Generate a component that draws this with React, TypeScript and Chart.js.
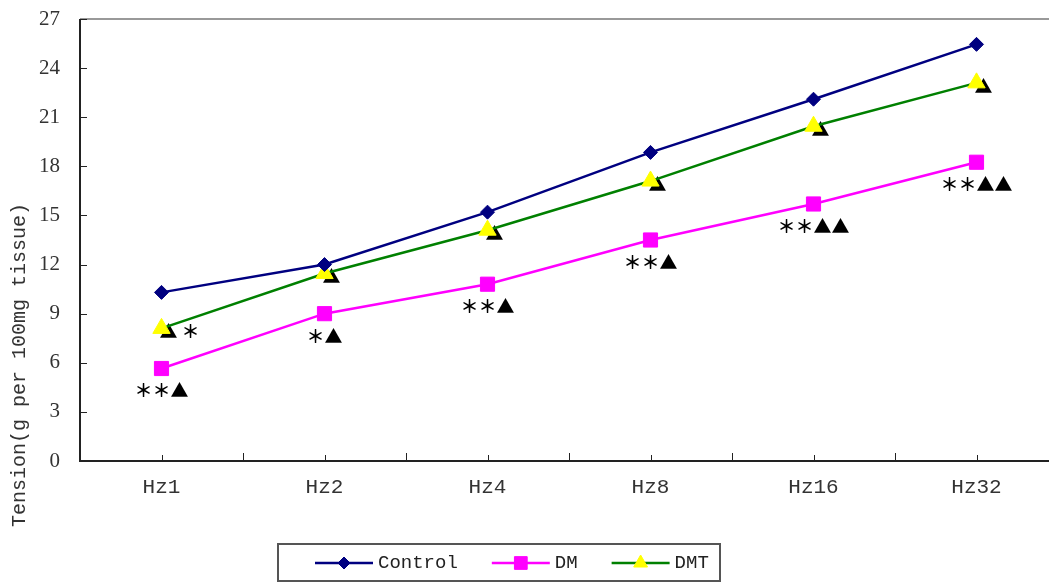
import React, { useEffect, useRef } from "react";
import { Chart, registerables } from "chart.js";
import { drawPoint } from "chart.js/helpers";

Chart.register(...registerables);

const categories = ["Hz1", "Hz2", "Hz4", "Hz8", "Hz16", "Hz32"];
const controlValues = [10.3, 12.0, 15.2, 18.85, 22.1, 25.45];
const dmValues = [5.65, 9.0, 10.8, 13.5, 15.7, 18.25];
const dmtValues = [8.1, 11.45, 14.1, 17.1, 20.45, 23.1];
const yTickValues = [0, 3, 6, 9, 12, 15, 18, 21, 24, 27];
const dmMarks = ["＊＊▲", "＊▲", "＊＊▲", "＊＊▲", "＊＊▲▲", "＊＊▲▲"];
const dmtMarks = ["▲ ＊", "▲", "▲", "▲", "▲", "▲"];
const yTitle = "Tension(g per 100mg tissue)";

const MARK_FONT = 'bold 18px "Noto Sans CJK SC"';
const MONO = '"Liberation Mono", monospace';

const decorPlugin = {
  id: "decor",
  beforeDatasetsDraw(chart: any) {
    const ctx = chart.ctx;
    const x = chart.scales.x;
    const y = chart.scales.y;
    ctx.save();
    ctx.fillStyle = "#000";
    ctx.font = MARK_FONT;
    ctx.textBaseline = "middle";
    ctx.textAlign = "left";
    dmtMarks.forEach((m, i) => {
      const px = x.getPixelForValue(i);
      const py = y.getPixelForValue(dmtValues[i]);
      ctx.fillText(m, px - 2, py + 3);
    });
    ctx.restore();
  },
  afterDatasetsDraw(chart: any) {
    const ctx = chart.ctx;
    const x = chart.scales.x;
    const y = chart.scales.y;
    const area = chart.chartArea;
    ctx.save();
    ctx.fillStyle = "#000";
    ctx.font = MARK_FONT;
    ctx.textBaseline = "middle";
    ctx.textAlign = "center";
    dmMarks.forEach((m, i) => {
      const px = x.getPixelForValue(i);
      const py = y.getPixelForValue(dmValues[i]);
      ctx.fillText(m, px, py + 22);
    });
    ctx.restore();

    ctx.save();
    ctx.strokeStyle = "#999";
    ctx.lineWidth = 2;
    ctx.beginPath();
    ctx.moveTo(area.left, area.top);
    ctx.lineTo(area.right, area.top);
    ctx.lineTo(area.right, area.bottom);
    ctx.stroke();
    ctx.strokeStyle = "#222";
    ctx.lineWidth = 2;
    ctx.beginPath();
    ctx.moveTo(area.left, area.top);
    ctx.lineTo(area.left, area.bottom);
    ctx.lineTo(area.right, area.bottom);
    ctx.stroke();
    ctx.lineWidth = 1;
    yTickValues.forEach((v) => {
      const py = Math.round(y.getPixelForValue(v)) + 0.5;
      ctx.beginPath();
      ctx.moveTo(area.left, py);
      ctx.lineTo(area.left + 7, py);
      ctx.stroke();
    });
    const step = x.getPixelForValue(1) - x.getPixelForValue(0);
    categories.forEach((_, i) => {
      const c = Math.round(x.getPixelForValue(i)) + 0.5;
      ctx.beginPath();
      ctx.moveTo(c, area.bottom);
      ctx.lineTo(c, area.bottom - 6);
      ctx.stroke();
      const b = Math.round(x.getPixelForValue(i) + step / 2) + 0.5;
      ctx.beginPath();
      ctx.moveTo(b, area.bottom);
      ctx.lineTo(b, area.bottom - 8);
      ctx.stroke();
    });
    ctx.restore();
  },
  afterDraw(chart: any) {
    const ctx = chart.ctx;
    ctx.save();
    ctx.translate(20, 365);
    ctx.rotate(-Math.PI / 2);
    ctx.fillStyle = "#333";
    ctx.font = `20px ${MONO}`;
    ctx.textAlign = "center";
    ctx.textBaseline = "middle";
    ctx.fillText(yTitle, 0, 0);
    ctx.restore();

    ctx.save();
    ctx.strokeStyle = "#555";
    ctx.lineWidth = 2;
    ctx.strokeRect(278, 544, 442, 37);
    ctx.font = `19px ${MONO}`;
    ctx.textBaseline = "middle";
    ctx.textAlign = "left";
    let cx = 315;
    const ly = 563;
    chart.data.datasets.forEach((ds: any) => {
      ctx.strokeStyle = ds.borderColor;
      ctx.lineWidth = 2.5;
      ctx.beginPath();
      ctx.moveTo(cx, ly);
      ctx.lineTo(cx + 58, ly);
      ctx.stroke();
      ctx.fillStyle = ds.pointBackgroundColor;
      ctx.strokeStyle = ds.pointBorderColor;
      ctx.lineWidth = 1;
      drawPoint(ctx, { pointStyle: ds.pointStyle, radius: ds.legendRadius, rotation: 0, borderWidth: 1 }, cx + 29, ly);
      ctx.fillStyle = "#222";
      ctx.fillText(ds.label, cx + 63, ly);
      cx += 63 + ctx.measureText(ds.label).width + 34;
    });
    ctx.restore();
  },
};

export default function App() {
  const ref = useRef<HTMLCanvasElement | null>(null);
  useEffect(() => {
    if (!ref.current) return;
    const chart = new Chart(ref.current, {
      type: "line",
      data: {
        labels: categories,
        datasets: [
          {
            label: "Control",
            data: controlValues,
            borderColor: "#000080",
            borderWidth: 2.5,
            pointStyle: "rectRot",
            pointRadius: 7,
            pointBackgroundColor: "#000080",
            pointBorderColor: "#000080",
            pointBorderWidth: 1,
            legendRadius: 6,
            tension: 0,
          } as any,
          {
            label: "DM",
            data: dmValues,
            borderColor: "#FF00FF",
            borderWidth: 2.5,
            pointStyle: "rect",
            pointRadius: 10,
            pointBackgroundColor: "#FF00FF",
            pointBorderColor: "#FF00FF",
            pointBorderWidth: 1,
            legendRadius: 9,
            tension: 0,
          } as any,
          {
            label: "DMT",
            data: dmtValues,
            borderColor: "#008000",
            borderWidth: 2.5,
            pointStyle: "triangle",
            pointRadius: 10,
            pointBackgroundColor: "#FFFF00",
            pointBorderColor: "#FFFF00",
            pointBorderWidth: 1,
            legendRadius: 8,
            tension: 0,
          } as any,
        ],
      },
      options: {
        animation: false,
        responsive: false,
        devicePixelRatio: 1,
        layout: { padding: { left: 0, right: 22, top: 19, bottom: 0 } },
        plugins: { legend: { display: false }, tooltip: { enabled: false } },
        scales: {
          x: {
            type: "category",
            offset: true,
            grid: { display: false, drawTicks: false },
            border: { display: false },
            ticks: {
              color: "#333",
              font: { family: "Liberation Mono", size: 21 },
              padding: 14,
              maxRotation: 0,
              autoSkip: false,
            },
            afterFit: (s: any) => {
              s.height = 121;
              s.paddingLeft = 0;
              s.paddingRight = 0;
            },
          },
          y: {
            min: 0,
            max: 27,
            grid: { display: false, drawTicks: false },
            border: { display: false },
            afterBuildTicks: (s: any) => {
              s.ticks = yTickValues.map((v) => ({ value: v }));
            },
            ticks: {
              color: "#333",
              font: { family: "Liberation Serif", size: 21 },
              padding: 20,
            },
            afterFit: (s: any) => {
              s.width = 80;
              s.paddingTop = 0;
              s.paddingBottom = 0;
            },
          },
        },
      },
      plugins: [decorPlugin],
    });
    return () => chart.destroy();
  }, []);
  return (
    <div
      style={{
        position: "fixed",
        left: 0,
        top: 0,
        width: 1049,
        height: 582,
        overflow: "hidden",
        background: "#fff",
      }}
    >
      <canvas ref={ref} width={1080} height={582} style={{ display: "block" }} />
    </div>
  );
}
